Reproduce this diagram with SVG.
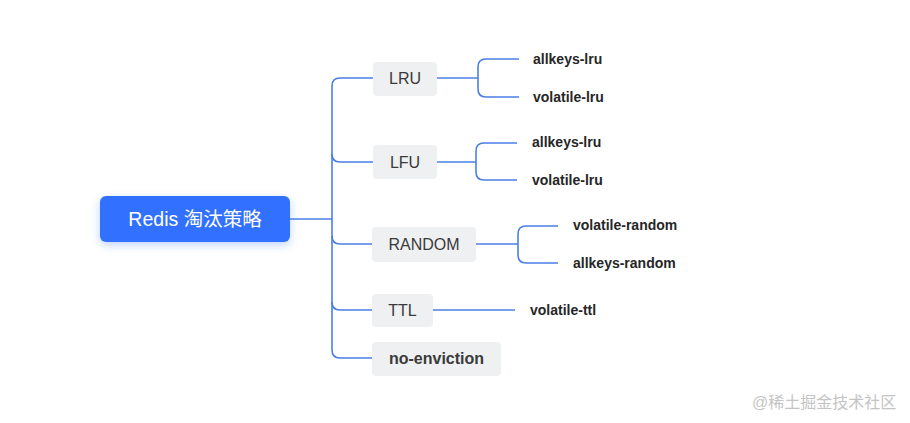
<svg xmlns="http://www.w3.org/2000/svg" width="910" height="423" viewBox="0 0 910 423">
<defs>
<filter id="sh" x="-20%" y="-30%" width="140%" height="180%"><feDropShadow dx="0" dy="3" stdDeviation="4" flood-color="#3370ff" flood-opacity="0.3"/></filter>
</defs>
<style>
.box{fill:#eef0f2}
.bt{font-family:"Liberation Sans",Arial,sans-serif;font-size:16px;fill:#3a3a3a;text-anchor:middle}
.leaf{font-family:"Liberation Sans",Arial,sans-serif;font-size:14px;font-weight:bold;fill:#262626}
.c{fill:none;stroke:#4a7fe6;stroke-width:1.6}
</style>
<rect width="910" height="423" fill="#ffffff"/>
<g id="connectors">
<path class="c" d="M290 219 H332"/>
<path class="c" d="M373 78 H340 Q332 78 332 86 V350 Q332 358 340 358 H372"/>
<path class="c" d="M332 154 Q332 162 340 162 H373"/>
<path class="c" d="M332 236 Q332 244 340 244 H372"/>
<path class="c" d="M332 302 Q332 310 340 310 H372"/>
<path class="c" d="M437 78 H478"/>
<path class="c" d="M519 59 H486 Q478 59 478 67 V89 Q478 97 486 97 H519"/>
<path class="c" d="M437 162 H476"/>
<path class="c" d="M517 143 H484 Q476 143 476 151 V172 Q476 180 484 180 H517"/>
<path class="c" d="M476 244 H518"/>
<path class="c" d="M558 226 H526 Q518 226 518 234 V255 Q518 263 526 263 H558"/>
<path class="c" d="M433 310 H515"/>
</g>
<g id="root">
<rect x="100" y="196" width="190" height="46" rx="6" fill="#3370ff" filter="url(#sh)"/>
<text x="195" y="226" text-anchor="middle" font-family="'Liberation Sans','Noto Sans CJK SC',sans-serif" font-size="19.5" fill="#ffffff">Redis 淘汰策略</text>
</g>
<g id="lru">
<rect class="box" x="373" y="62" width="64" height="34" rx="4"/>
<text class="bt" x="405" y="84">LRU</text>
</g>
<g id="lfu">
<rect class="box" x="373" y="145" width="64" height="34" rx="4"/>
<text class="bt" x="405" y="168">LFU</text>
</g>
<g id="random">
<rect class="box" x="372" y="227" width="104" height="35" rx="4"/>
<text class="bt" x="424" y="250">RANDOM</text>
</g>
<g id="ttl">
<rect class="box" x="372" y="294" width="61" height="33" rx="4"/>
<text class="bt" x="402.5" y="316">TTL</text>
</g>
<g id="noeviction">
<rect class="box" x="372" y="342" width="129" height="34" rx="4"/>
<text class="bt" x="436.5" y="364" font-weight="bold" fill="#262626">no-enviction</text>
</g>
<g id="lru-allkeys"><text class="leaf" x="533" y="64">allkeys-lru</text></g>
<g id="lru-volatile"><text class="leaf" x="533" y="102">volatile-lru</text></g>
<g id="lfu-allkeys"><text class="leaf" x="532" y="147">allkeys-lru</text></g>
<g id="lfu-volatile"><text class="leaf" x="532" y="185">volatile-lru</text></g>
<g id="random-volatile"><text class="leaf" x="573" y="230">volatile-random</text></g>
<g id="random-allkeys"><text class="leaf" x="573" y="268">allkeys-random</text></g>
<g id="ttl-volatile"><text class="leaf" x="530" y="315">volatile-ttl</text></g>
<text x="752" y="408" font-family="'Liberation Sans','Noto Sans CJK SC',sans-serif" font-size="16" fill="#c4c4c4">@稀土掘金技术社区</text>
</svg>
